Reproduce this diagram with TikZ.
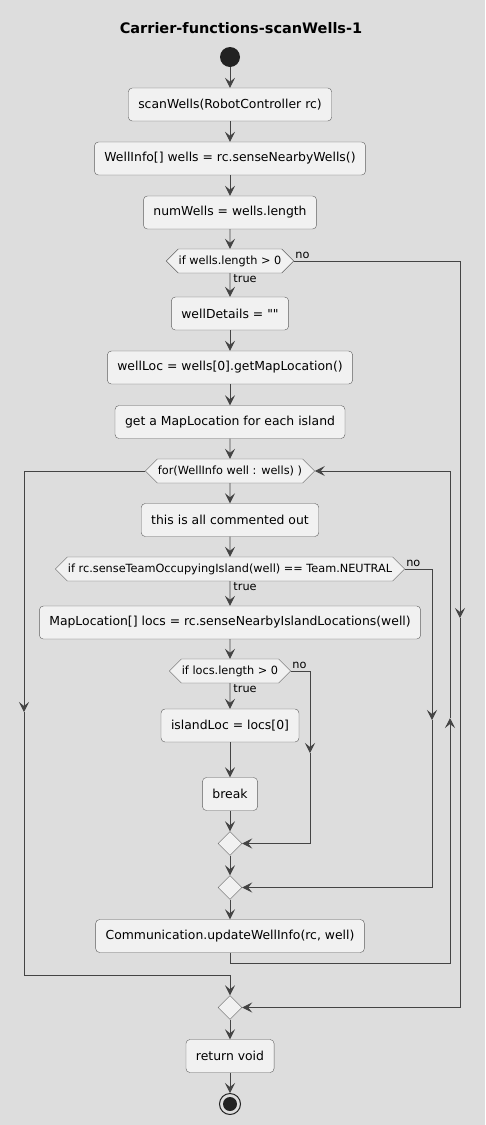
\documentclass[tikz,border=0pt]{standalone}
\usepackage{fontspec}
\setmainfont{DejaVu Sans}[Ligatures=TeXOff]
\usetikzlibrary{arrows.meta}
\usetikzlibrary{shapes.geometric}
\usetikzlibrary{shapes.symbols}
\definecolor{bgcol}{HTML}{DDDDDD}
\definecolor{boxfill}{HTML}{F1F1F1}
\definecolor{boxline}{HTML}{5E5E5E}
\definecolor{flowcol}{HTML}{444444}
\definecolor{dotcol}{HTML}{222222}
\tikzset{
	actbox/.style={draw=boxline, fill=boxfill, rounded corners=4pt, inner xsep=10pt, inner ysep=0pt,
		minimum height=33pt, font=\fontsize{12.4}{14}\selectfont},
	decide/.style={signal, signal to=east and west, signal pointer angle=90, draw=boxline, fill=boxfill,
		inner xsep=0.5pt, inner ysep=0pt, minimum height=24pt, font=\fontsize{11.3}{13}\selectfont},
	merge/.style={diamond, draw=boxline, fill=boxfill, inner sep=0pt, minimum width=24pt, minimum height=24pt},
	wire/.style={draw=flowcol, line width=0.9pt},
	flow/.style={wire, -{Stealth[length=10pt, width=10pt, inset=4pt]}},
	lbl/.style={font=\fontsize{11.3}{13}\selectfont, inner sep=1pt},
}
\begin{document}
\begin{tikzpicture}[x=1pt, y=-1pt]
	\fill[bgcol] (0,0) rectangle (485,1125);
	\useasboundingbox (0,0) rectangle (485,1125);
	\node[font=\bfseries\fontsize{14.5}{17}\selectfont] (title) at (241,28) {Carrier-functions-scanWells-1};
	% main column
	\node[circle, fill=dotcol, minimum size=20pt, inner sep=0pt] (start) at (230,57) {};
	\node[actbox] (scan) at (230,104.5) {scanWells(RobotController rc)};
	\node[actbox] (wells) at (230,158.5) {WellInfo[] wells = rc.senseNearbyWells()};
	\node[actbox] (num) at (230,212.5) {numWells = wells.length};
	\node[decide] (ifwells) at (230,261) {if wells.length > 0};
	\node[actbox] (details) at (230,313.5) {wellDetails = ""};
	\node[actbox] (wloc) at (230,367.5) {wellLoc = wells[0].getMapLocation()};
	\node[actbox] (getmap) at (230,422) {get a MapLocation for each island};
	\node[decide] (forwell) at (230,471) {for(WellInfo well : wells) )};
	\node[actbox] (comment) at (230,520) {this is all commented out};
	\node[decide] (ifteam) at (230,569) {if rc.senseTeamOccupyingIsland(well) == Team.NEUTRAL};
	\node[actbox] (locs) at (230,622.5) {MapLocation[] locs = rc.senseNearbyIslandLocations(well)};
	\node[decide] (iflocs) at (230,671) {if locs.length > 0};
	\node[actbox] (island) at (230,725.5) {islandLoc = locs[0]};
	\node[actbox] (brk) at (230,794) {break};
	\node[merge] (mlocs) at (230,843.5) {};
	\node[merge] (mteam) at (230,887.5) {};
	\node[actbox] (update) at (230,936) {Communication.updateWellInfo(rc, well)};
	\node[merge] (mwells) at (230,1007.5) {};
	\node[actbox] (ret) at (230,1056) {return void};
	\node[circle, draw=dotcol, line width=1pt, minimum size=21pt, inner sep=0pt] (stop) at (230,1104) {};
	\node[circle, fill=dotcol, minimum size=14pt, inner sep=0pt] (stopdot) at (230,1104) {};
	% bends
	\coordinate (skipmid) at (460,618);
	\coordinate (exitmid) at (24,712);
	\coordinate (exitbot) at (230,975);
	\coordinate (backbot) at (450,963);
	\coordinate (backmid) at (450,718);
	\coordinate (teammid) at (432,720);
	\coordinate (locsmid) at (310,753);
	% straight flow
	\draw[flow] (start) -- (scan);
	\draw[flow] (scan) -- (wells);
	\draw[flow] (wells) -- (num);
	\draw[flow] (num) -- (ifwells);
	\draw[flow] (ifwells) -- node[lbl, at start, anchor=north west, xshift=2pt] {true} (details);
	\draw[flow] (details) -- (wloc);
	\draw[flow] (wloc) -- (getmap);
	\draw[flow] (getmap) -- (forwell);
	\draw[flow] (forwell) -- (comment);
	\draw[flow] (comment) -- (ifteam);
	\draw[flow] (ifteam) -- node[lbl, at start, anchor=north west, xshift=2pt] {true} (locs);
	\draw[flow] (locs) -- (iflocs);
	\draw[flow] (iflocs) -- node[lbl, at start, anchor=north west, xshift=2pt] {true} (island);
	\draw[flow] (island) -- (brk);
	\draw[flow] (brk) -- (mlocs);
	\draw[flow] (mlocs) -- (mteam);
	\draw[flow] (mteam) -- (update);
	\draw[flow] (mwells) -- (ret);
	\draw[flow] (ret) -- (stop);
	% branches and loops
	\draw[flow] (ifwells.east) node[lbl, anchor=south west, yshift=1pt] {no} -| (skipmid);
	\draw[flow] (skipmid) |- (mwells.east);
	\draw[flow] (ifteam.east) node[lbl, anchor=south west, yshift=1pt] {no} -| (teammid);
	\draw[flow] (teammid) |- (mteam.east);
	\draw[flow] (iflocs.east) node[lbl, anchor=south west, yshift=1pt] {no} -| (locsmid);
	\draw[flow] (locsmid) |- (mlocs.east);
	\draw[flow] (forwell.west) -| (exitmid);
	\draw[flow] (exitmid) |- (exitbot) -- (mwells.north);
	\draw[flow] (update.south) |- (backbot) -- (backmid);
	\draw[flow] (backmid) |- (forwell.east);
\end{tikzpicture}
\end{document}
